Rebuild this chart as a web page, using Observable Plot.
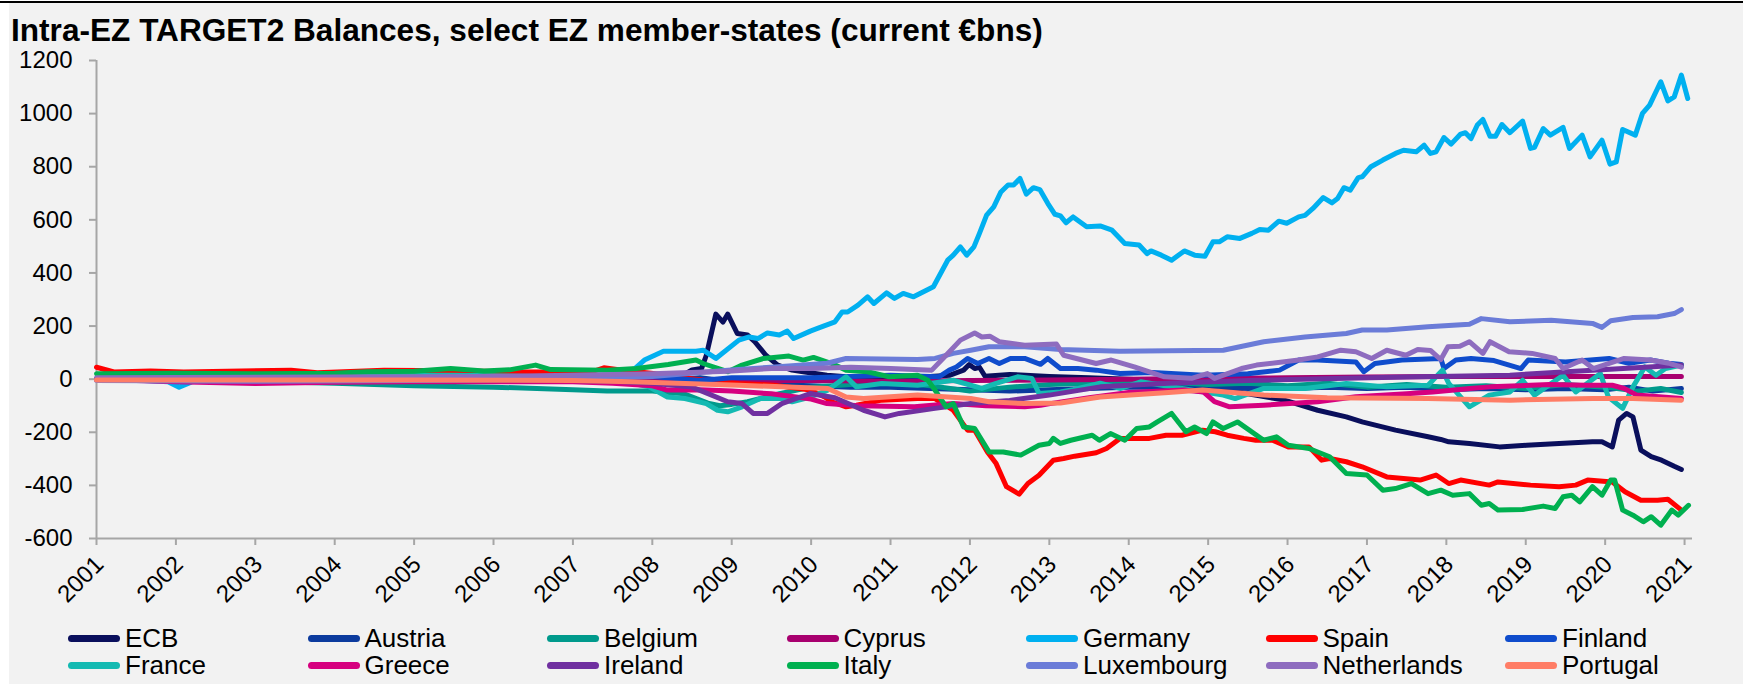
<!DOCTYPE html>
<html><head><meta charset="utf-8">
<script src="https://cdn.jsdelivr.net/npm/d3@7"></script>
<script src="https://cdn.jsdelivr.net/npm/@observablehq/plot@0.6"></script>
<style>
body{margin:0;background:#fff;width:1743px;height:684px;overflow:hidden;font-family:"Liberation Sans",Arial,sans-serif;position:relative;}
#panel{position:absolute;left:9px;top:3px;width:1734px;height:681px;background:#f2f2f2;}
#topline{position:absolute;left:0;top:1px;width:1743px;height:2px;background:#000;}
#title{position:absolute;left:11px;top:15px;font-weight:bold;font-size:31.6px;line-height:1;color:#000;white-space:nowrap;}
#chart{position:absolute;left:0;top:40px;}
.sw{position:absolute;width:52px;height:7px;border-radius:3.5px;}
.lt{position:absolute;font-size:26px;line-height:26px;color:#000;white-space:nowrap;}
</style></head>
<body>
<div id="panel"></div><div id="topline"></div>
<div id="title">Intra-EZ TARGET2 Balances, select EZ member-states (current €bns)</div>
<div id="chart"></div>
<div id="legend"></div>
<script>
const names = ["ECB","Austria","Belgium","Cyprus","Germany","Spain","Finland","France","Greece","Ireland","Italy","Luxembourg","Netherlands","Portugal"];
const colors = ["#0a0f5c","#0c3b9e","#009a8c","#a8006f","#00b0f0","#ff0000","#0f4ccc","#14bab2","#d6007f","#7030a0","#00b050","#6b7cd8","#8e6cbf","#ff7d66"];
const yTicks = [-600,-400,-200,0,200,400,600,800,1000,1200];
const xTicks = [2001,2002,2003,2004,2005,2006,2007,2008,2009,2010,2011,2012,2013,2014,2015,2016,2017,2018,2019,2020,2021];

const ECB = [[2001,0],[2008.3,0],[2008.5,35],[2008.62,40],[2008.68,90],[2008.8,245],[2008.89,215],[2008.95,245],[2009.07,172],[2009.2,166],[2009.29,141],[2009.43,90],[2009.58,53],[2009.76,34],[2009.9,28],[2010.2,15],[2010.6,5],[2011,5],[2011.5,10],[2011.75,15],[2011.92,34],[2011.99,55],[2012.06,40],[2012.12,45],[2012.19,11],[2012.5,18],[2013,10],[2013.5,5],[2014,0],[2014.5,-8],[2015,-25],[2015.5,-55],[2015.96,-79],[2016.38,-117],[2016.74,-142],[2016.94,-161],[2017.36,-192],[2017.77,-217],[2017.93,-227],[2018.03,-236],[2018.29,-242],[2018.67,-255],[2019.01,-249],[2019.42,-242],[2019.84,-236],[2019.96,-236],[2020.09,-255],[2020.17,-154],[2020.27,-129],[2020.35,-142],[2020.45,-267],[2020.58,-292],[2020.71,-305],[2020.87,-328],[2020.96,-340]];
const Austria = [[2001,0],[2004,-5],[2007,-8],[2008,-10],[2008.6,5],[2009,-10],[2009.5,-20],[2010,-25],[2010.5,-30],[2011,-30],[2011.5,-35],[2012,-40],[2012.5,-45],[2013,-40],[2013.5,-35],[2014,-30],[2014.5,-30],[2015,-25],[2015.5,-35],[2016,-35],[2016.5,-30],[2017,-35],[2017.5,-30],[2018,-40],[2018.5,-35],[2019,-40],[2019.5,-35],[2020,-40],[2020.3,-30],[2020.6,-45],[2020.96,-35]];
const Belgium = [[2001,0],[2002,-5],[2003,-8],[2004,-15],[2005,-25],[2006,-30],[2007,-40],[2007.43,-45],[2008,-45],[2008.4,-55],[2008.7,-90],[2008.85,-100],[2009,-95],[2009.2,-85],[2009.6,-55],[2010,-30],[2010.5,-20],[2011,-10],[2011.5,-25],[2012,-45],[2012.5,-30],[2013,-20],[2013.5,-15],[2014,-10],[2014.5,-12],[2015,-20],[2015.5,-15],[2016,-25],[2016.5,-15],[2017,-30],[2017.5,-20],[2018,-30],[2018.5,-25],[2019,-35],[2019.5,-20],[2020,-30],[2020.4,-45],[2020.7,-35],[2020.96,-50]];
const Cyprus = [[2001,0],[2008,0],[2009,-5],[2010,-5],[2011,-8],[2012,-5],[2013,-3],[2014,0],[2015,3],[2016,5],[2017,8],[2018,10],[2019,10],[2020,10],[2020.96,10]];
const Germany = [[2001,0],[2001.6,-5],[2001.9,-10],[2002.04,-30],[2002.2,-10],[2002.5,0],[2004,0],[2005.5,5],[2005.9,20],[2006.1,5],[2007,10],[2007.5,15],[2007.78,40],[2007.9,72],[2008.14,105],[2008.55,105],[2008.64,109],[2008.8,78],[2009.09,147],[2009.22,159],[2009.33,153],[2009.45,174],[2009.6,166],[2009.7,181],[2009.78,153],[2009.99,181],[2010.08,191],[2010.3,216],[2010.39,253],[2010.46,253],[2010.59,279],[2010.71,310],[2010.79,285],[2010.95,325],[2011.05,304],[2011.16,323],[2011.29,310],[2011.54,348],[2011.72,448],[2011.79,467],[2011.88,498],[2011.96,467],[2012.05,498],[2012.12,549],[2012.21,618],[2012.3,649],[2012.39,705],[2012.48,731],[2012.55,731],[2012.63,756],[2012.71,697],[2012.8,721],[2012.88,714],[2012.98,662],[2013.07,621],[2013.14,615],[2013.21,589],[2013.3,611],[2013.47,574],[2013.64,577],[2013.79,561],[2013.95,511],[2014.13,505],[2014.23,473],[2014.28,483],[2014.41,467],[2014.54,448],[2014.7,483],[2014.83,467],[2014.96,463],[2015.06,517],[2015.14,517],[2015.24,536],[2015.4,530],[2015.55,549],[2015.65,564],[2015.76,561],[2015.89,595],[2015.99,587],[2016.14,611],[2016.22,617],[2016.32,643],[2016.45,684],[2016.56,664],[2016.63,680],[2016.71,721],[2016.79,712],[2016.89,759],[2016.94,762],[2017.05,800],[2017.2,825],[2017.36,850],[2017.46,862],[2017.62,856],[2017.72,881],[2017.8,850],[2017.87,856],[2017.97,910],[2018.06,885],[2018.18,923],[2018.24,928],[2018.31,906],[2018.39,957],[2018.46,978],[2018.55,915],[2018.62,915],[2018.7,959],[2018.8,928],[2018.96,972],[2019.06,869],[2019.11,873],[2019.22,944],[2019.31,919],[2019.47,948],[2019.55,869],[2019.71,919],[2019.81,837],[2019.96,900],[2020.06,810],[2020.14,818],[2020.22,940],[2020.38,919],[2020.47,1001],[2020.56,1032],[2020.7,1120],[2020.79,1048],[2020.87,1063],[2020.96,1145],[2021.04,1057]];
const Spain = [[2001,45],[2001.22,27],[2001.68,31],[2002.1,27],[2003.45,34],[2003.78,24],[2004.62,34],[2005.5,32],[2006.3,27],[2007.23,27],[2007.39,43],[2007.6,35],[2008.01,21],[2008.64,-4],[2009.09,-16],[2009.54,-23],[2009.99,-41],[2010.17,-67],[2010.26,-85],[2010.44,-104],[2010.57,-98],[2010.89,-79],[2011.34,-73],[2011.56,-73],[2011.79,-117],[2011.97,-192],[2012.06,-192],[2012.22,-274],[2012.33,-318],[2012.46,-405],[2012.62,-433],[2012.73,-393],[2012.87,-362],[2013.05,-305],[2013.18,-299],[2013.32,-290],[2013.59,-277],[2013.72,-261],[2013.89,-223],[2014.05,-223],[2014.26,-223],[2014.47,-211],[2014.67,-211],[2014.93,-192],[2015.09,-198],[2015.24,-211],[2015.45,-223],[2015.6,-230],[2015.81,-230],[2016.01,-255],[2016.27,-255],[2016.43,-305],[2016.53,-299],[2016.74,-311],[2016.94,-330],[2017.25,-368],[2017.46,-374],[2017.67,-380],[2017.87,-361],[2018.03,-393],[2018.18,-380],[2018.54,-399],[2018.65,-387],[2019.06,-399],[2019.42,-405],[2019.63,-399],[2019.78,-380],[2020.09,-387],[2020.25,-424],[2020.45,-456],[2020.66,-456],[2020.79,-452],[2020.96,-493]];
const Finland = [[2001,0],[2007,0],[2008,10],[2008.6,-5],[2009,5],[2010,5],[2010.5,10],[2011,15],[2011.5,10],[2011.61,9],[2011.74,34],[2011.83,46],[2011.97,78],[2012.1,59],[2012.24,78],[2012.37,59],[2012.51,78],[2012.69,78],[2012.89,56],[2012.98,78],[2013.14,40],[2013.36,40],[2013.59,34],[2013.89,21],[2014.3,25],[2014.94,15],[2015.5,20],[2015.9,34],[2016.14,72],[2016.38,72],[2016.86,65],[2016.96,28],[2017.1,59],[2017.44,72],[2017.93,78],[2017.97,40],[2018.12,72],[2018.31,78],[2018.6,70],[2018.94,40],[2019.03,72],[2019.5,65],[2020.05,78],[2020.3,60],[2020.57,72],[2020.8,60],[2020.96,55]];
const France = [[2001,0],[2001.5,10],[2002.5,15],[2004,15],[2005.5,15],[2006.5,10],[2007.5,0],[2007.96,-29],[2008.19,-67],[2008.41,-73],[2008.68,-92],[2008.82,-117],[2008.95,-123],[2009.13,-104],[2009.36,-73],[2009.63,-73],[2009.76,-85],[2009.99,-67],[2010.21,-41],[2010.44,9],[2010.57,-29],[2010.89,-16],[2011.34,-23],[2011.79,-4],[2012.15,-35],[2012.33,-16],[2012.6,9],[2012.78,3],[2012.87,-54],[2013.14,-48],[2013.3,-40],[2013.64,-15],[2013.9,-35],[2014.15,-10],[2014.67,-35],[2015.19,-60],[2015.34,-73],[2015.7,-35],[2016.22,-35],[2016.74,-16],[2017.25,-29],[2017.77,-23],[2017.95,34],[2018.03,-16],[2018.29,-104],[2018.54,-60],[2018.8,-48],[2018.96,-4],[2019.11,-60],[2019.47,15],[2019.63,-48],[2019.94,21],[2020.04,-67],[2020.22,-110],[2020.35,-29],[2020.5,46],[2020.64,15],[2020.76,40],[2020.96,53]];
const Greece = [[2001,0],[2002,-10],[2003,-16],[2004,-12],[2005,-10],[2006,-10],[2007,-10],[2007.5,-15],[2008,-25],[2008.19,-41],[2008.6,-40],[2009,-45],[2009.5,-55],[2010,-75],[2010.2,-92],[2010.6,-100],[2011.3,-104],[2011.79,-92],[2012.2,-100],[2012.69,-104],[2012.89,-98],[2013.01,-92],[2013.5,-70],[2014,-50],[2014.7,-41],[2014.94,-48],[2015.08,-85],[2015.27,-104],[2015.7,-98],[2016.38,-85],[2016.86,-66],[2017.5,-55],[2017.83,-48],[2018.3,-35],[2018.55,-29],[2019.3,-20],[2019.76,-23],[2020.09,-23],[2020.24,-35],[2020.4,-60],[2020.96,-73]];
const Ireland = [[2001,0],[2004,-3],[2007,-5],[2007.5,-8],[2008,-15],[2008.5,-30],[2008.95,-85],[2009.13,-92],[2009.27,-129],[2009.45,-129],[2009.63,-92],[2009.99,-54],[2010.3,-70],[2010.66,-117],[2010.93,-142],[2011.11,-129],[2011.56,-110],[2012.01,-92],[2012.5,-80],[2013,-60],[2013.64,-29],[2014.5,-15],[2015.5,-5],[2016.74,3],[2017.5,8],[2018.8,15],[2019.84,34],[2020.5,45],[2020.96,53]];
const Italy = [[2001,20],[2002,22],[2003,20],[2004,22],[2004.41,28],[2005,30],[2005.46,40],[2005.88,31],[2006.2,35],[2006.53,53],[2006.72,36],[2007.43,34],[2007.8,40],[2008.2,55],[2008.55,72],[2008.64,59],[2008.95,28],[2009.13,53],[2009.4,78],[2009.72,87],[2009.9,72],[2010.03,82],[2010.26,59],[2010.44,34],[2010.71,28],[2010.98,9],[2011.34,15],[2011.47,-4],[2011.56,-41],[2011.7,-104],[2011.79,-92],[2011.92,-180],[2012.06,-186],[2012.24,-274],[2012.42,-274],[2012.64,-286],[2012.87,-249],[2013,-242],[2013.05,-223],[2013.14,-242],[2013.27,-230],[2013.54,-211],[2013.63,-230],[2013.77,-205],[2013.95,-230],[2014.1,-186],[2014.26,-180],[2014.36,-161],[2014.54,-129],[2014.72,-198],[2014.83,-180],[2014.98,-205],[2015.06,-161],[2015.19,-186],[2015.37,-161],[2015.7,-230],[2015.86,-217],[2016.01,-249],[2016.27,-261],[2016.53,-292],[2016.74,-355],[2017,-361],[2017.2,-418],[2017.36,-412],[2017.56,-393],[2017.77,-431],[2017.93,-418],[2018.08,-437],[2018.29,-431],[2018.44,-475],[2018.54,-468],[2018.65,-493],[2018.96,-491],[2019.22,-478],[2019.37,-487],[2019.47,-443],[2019.58,-437],[2019.68,-462],[2019.84,-405],[2019.96,-437],[2020.07,-380],[2020.12,-380],[2020.22,-493],[2020.35,-512],[2020.48,-537],[2020.58,-518],[2020.7,-550],[2020.84,-493],[2020.92,-512],[2021.05,-475]];
const Luxembourg = [[2001,-5],[2003,-8],[2005,-5],[2006.5,0],[2007,5],[2008,10],[2008.95,34],[2009.54,46],[2010.2,60],[2010.44,78],[2011.34,74],[2011.56,78],[2011.79,97],[2012.01,109],[2012.24,122],[2012.69,122],[2013.14,112],[2013.89,105],[2014.5,107],[2015.19,109],[2015.7,141],[2016.22,159],[2016.74,172],[2016.94,185],[2017.25,185],[2017.77,197],[2018.29,207],[2018.44,228],[2018.8,216],[2019.32,222],[2019.84,210],[2019.96,195],[2020.07,220],[2020.35,232],[2020.66,235],[2020.87,247],[2020.96,262]];
const Netherlands = [[2001,5],[2004,8],[2006,10],[2007,15],[2008,20],[2008.95,30],[2009.5,40],[2010,40],[2010.5,45],[2011,40],[2011.52,34],[2011.7,90],[2011.88,147],[2012.06,174],[2012.15,159],[2012.25,162],[2012.37,141],[2012.69,128],[2013.09,132],[2013.18,90],[2013.59,59],[2013.78,72],[2014.07,46],[2014.45,9],[2014.79,3],[2014.99,21],[2015.08,3],[2015.42,40],[2015.61,53],[2016.14,72],[2016.38,84],[2016.67,109],[2016.86,103],[2017.06,78],[2017.25,109],[2017.49,90],[2017.64,112],[2017.8,108],[2017.93,74],[2018.02,122],[2018.17,124],[2018.29,141],[2018.46,97],[2018.55,141],[2018.79,103],[2019.08,97],[2019.37,78],[2019.47,40],[2019.71,72],[2019.85,40],[2020.24,78],[2020.57,72],[2020.8,60],[2020.96,45]];
const Portugal = [[2001,-3],[2005,-3],[2007,-5],[2007.74,-10],[2009.09,-23],[2010.21,-35],[2010.44,-67],[2010.66,-73],[2011.34,-60],[2012.01,-73],[2012.24,-85],[2012.69,-92],[2013.14,-90],[2013.64,-67],[2014.5,-50],[2014.93,-41],[2015.7,-60],[2016.5,-70],[2017.77,-73],[2018.8,-79],[2019.84,-73],[2020.35,-73],[2020.96,-79]];

const seriesList = [ECB,Austria,Belgium,Cyprus,Germany,Spain,Finland,France,Greece,Ireland,Italy,Luxembourg,Netherlands,Portugal];
const rows = [];
seriesList.forEach((s,i)=>s.forEach(([t,v])=>rows.push({name:names[i],t,v})));

const lineMarks = names.map(n => Plot.line(rows.filter(r=>r.name===n), {x:"t", y:"v", stroke:"name", strokeWidth:5, strokeLinejoin:"round", strokeLinecap:"round"}));

const chart = Plot.plot({
  width:1743, height:578, marginLeft:96, marginRight:51, marginTop:20, marginBottom:80,
  style:{background:"transparent", fontFamily:"'Liberation Sans', Arial, sans-serif", color:"#000", overflow:"visible"},
  x:{type:"linear", domain:[2001,2021.1]},
  y:{type:"linear", domain:[-600,1200]},
  color:{domain:names, range:colors},
  marks:[
    Plot.ruleX([2001],{y1:-600,y2:1200,stroke:"#a6a6a6",strokeWidth:2}),
    Plot.ruleY([-600],{x1:2001,x2:2021.1,stroke:"#a6a6a6",strokeWidth:2}),
    Plot.axisY({ticks:yTicks, tickSize:7, tickPadding:17, fontSize:24, stroke:"#a6a6a6", strokeWidth:2, fill:"#000", label:null, tickFormat:d=>String(d)}),
    Plot.axisX({ticks:xTicks, tickSize:7, stroke:"#a6a6a6", strokeWidth:2, text:null, label:null}),
    Plot.text(xTicks, {x:d=>d, y:()=>-600, text:d=>String(d), rotate:-45, textAnchor:"end", lineAnchor:"middle", dx:3, dy:22, fontSize:24, fill:"#000"}),
    ...lineMarks
  ]
});
document.getElementById("chart").appendChild(chart);

const leg = document.getElementById("legend");
names.forEach((n,i)=>{
  const col = i%7, row = Math.floor(i/7);
  const left = 68 + col*239.5, cy = 638 + row*27;
  const sw = document.createElement("div"); sw.className="sw";
  sw.style.left = left+"px"; sw.style.top = (cy-3.5)+"px"; sw.style.background = colors[i];
  const tx = document.createElement("div"); tx.className="lt";
  tx.style.left = (left+57)+"px"; tx.style.top = (cy-13)+"px"; tx.textContent = n;
  leg.appendChild(sw); leg.appendChild(tx);
});
</script>
</body></html>
